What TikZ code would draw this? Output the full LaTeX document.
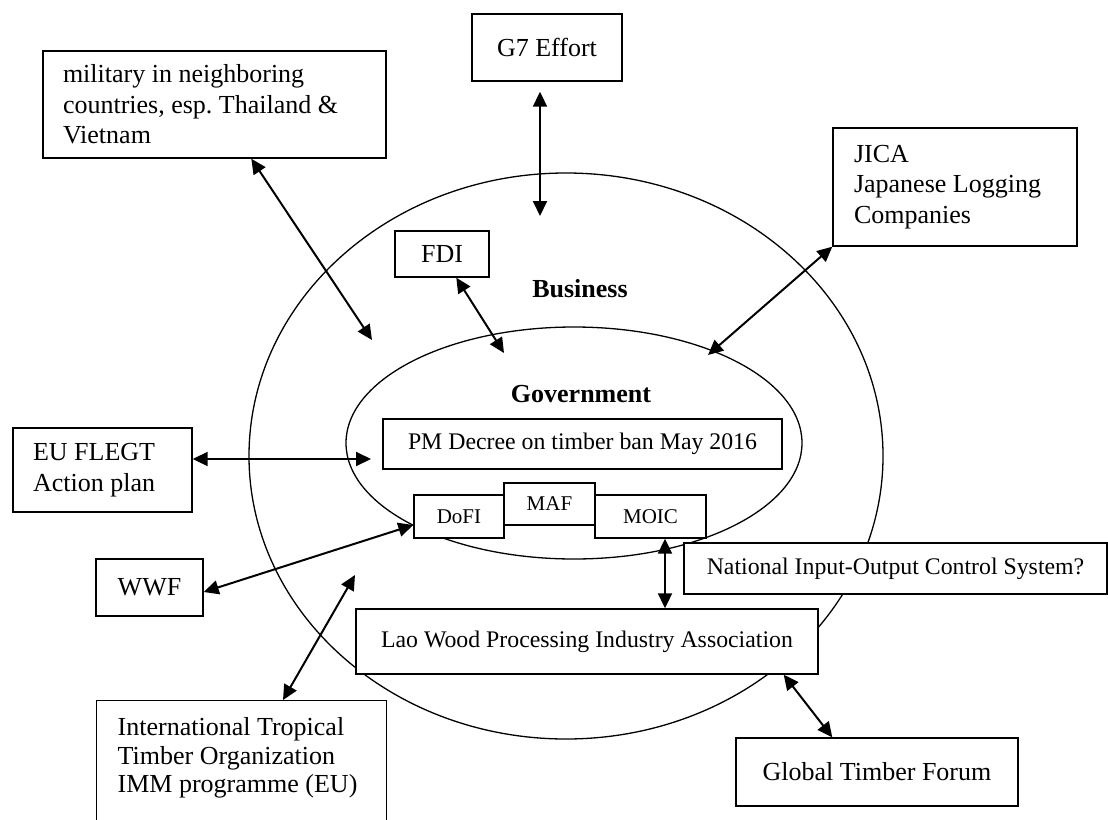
\documentclass[tikz,border=0pt]{standalone}
\usepackage{fontspec}
\setmainfont{Liberation Serif}
\usetikzlibrary{arrows.meta}
\frenchspacing
\newcommand\szA{\fontsize{26}{30.5}\selectfont}
\newcommand\szB{\fontsize{23.8}{28}\selectfont}
\newcommand\szC{\fontsize{21}{25}\selectfont}
\newcommand\szD{\fontsize{26}{28.5}\selectfont}
\begin{document}
\begin{tikzpicture}[x=1pt,y=-1pt,
  box/.style={draw, line width=1.4pt, fill=white, inner sep=0pt, align=center},
  lbox/.style={draw, line width=1.4pt, fill=white, inner ysep=0pt, align=flush left},
  dbl/.style={line width=2pt, {Triangle[length=15pt,width=14pt]}-{Triangle[length=15pt,width=14pt]}},
  ring/.style={line width=1.3pt},
  lab/.style={font=\szA\bfseries, inner sep=0pt}
]
\useasboundingbox (0,0) rectangle (1108,819);
% rings
\draw[ring] (566,456) ellipse [x radius=317, y radius=283];
\draw[ring] (574,443) ellipse [x radius=228, y radius=116];
% labels
\node[lab, anchor=base] (bus) at (580,297) {Business};
\node[lab, anchor=base] (gov) at (581,402) {Government};
% boxes
\node[lbox, font=\szA, minimum width=343pt, minimum height=107pt, text width=303pt, inner xsep=20pt] (mil) at (214.5,104.5) {military in neighboring\\countries, esp. Thailand \&\\Vietnam};
\node[box, font=\szA, minimum width=150pt, minimum height=67pt] (g7) at (547,47.5) {G7 Effort};
\node[lbox, font=\szA, minimum width=244pt, minimum height=118pt, text width=202pt, inner xsep=21pt] (jica) at (955,187) {JICA\\Japanese Logging\\Companies};
\node[box, font=\szA, minimum width=94pt, minimum height=46pt] (fdi) at (442,254) {FDI};
\node[box, font=\szB, minimum width=399pt, minimum height=50pt] (pm) at (582.5,444) {PM Decree on timber ban May 2016};
\node[lbox, font=\szA, minimum width=179pt, minimum height=84pt, text width=139pt, inner xsep=20pt] (eu) at (102.5,470) {EU FLEGT\\Action plan};
\node[box, font=\szA, minimum width=107pt, minimum height=57pt] (wwf) at (149.5,587.5) {WWF};
\node[box, font=\szC, minimum width=90pt, minimum height=43pt] (dofi) at (459,516.5) {DoFI};
\node[box, font=\szC, minimum width=91pt, minimum height=42pt] (maf) at (549.5,504) {MAF};
\node[box, font=\szC, minimum width=111pt, minimum height=43pt] (moic) at (650.5,516.5) {MOIC};
\node[box, font=\szB, minimum width=423pt, minimum height=51pt] (nat) at (895.5,568.5) {National Input-Output Control System?};
\node[box, font=\szB, minimum width=462pt, minimum height=65pt] (lao) at (587,641.5) {Lao Wood Processing Industry Association};
\node[box, font=\szA, minimum width=282pt, minimum height=68pt] (gtf) at (877,772) {Global Timber Forum};
\node[lbox, font=\szD, anchor=north west, text width=248pt, inner xsep=21pt, inner ysep=17pt] (itto) at (96,700) {International Tropical\\Timber Organization\\IMM programme (EU)\\[50pt]\mbox{}};
% free ends
\coordinate (milend) at (372,340);
\coordinate (g7end) at (540,216);
\coordinate (jicaend) at (708,355);
\coordinate (fdiend) at (504,353);
\coordinate (euend) at (371,459);
\coordinate (ittoend) at (355,575);
% connectors
\draw[dbl] ([xshift=209pt]mil.south west) -- (milend);
\draw[dbl] ([xshift=-7pt,yshift=-10pt]g7.south) -- (g7end);
\draw[dbl] (jica.south west) -- (jicaend);
\draw[dbl] ([xshift=62pt]fdi.south west) -- (fdiend);
\draw[dbl] ([yshift=11pt]eu.east) -- (euend);
\draw[dbl] ([yshift=-4.5pt]wwf.east) -- ([yshift=-8.5pt]dofi.west);
\draw[dbl] ([xshift=187pt]itto.north west) -- (ittoend);
\draw[dbl] ([xshift=14.5pt]moic.south) -- ([xshift=78pt]lao.north);
\draw[dbl] ([xshift=-35pt]lao.south east) -- ([xshift=97pt]gtf.north west);
\end{tikzpicture}
\end{document}
